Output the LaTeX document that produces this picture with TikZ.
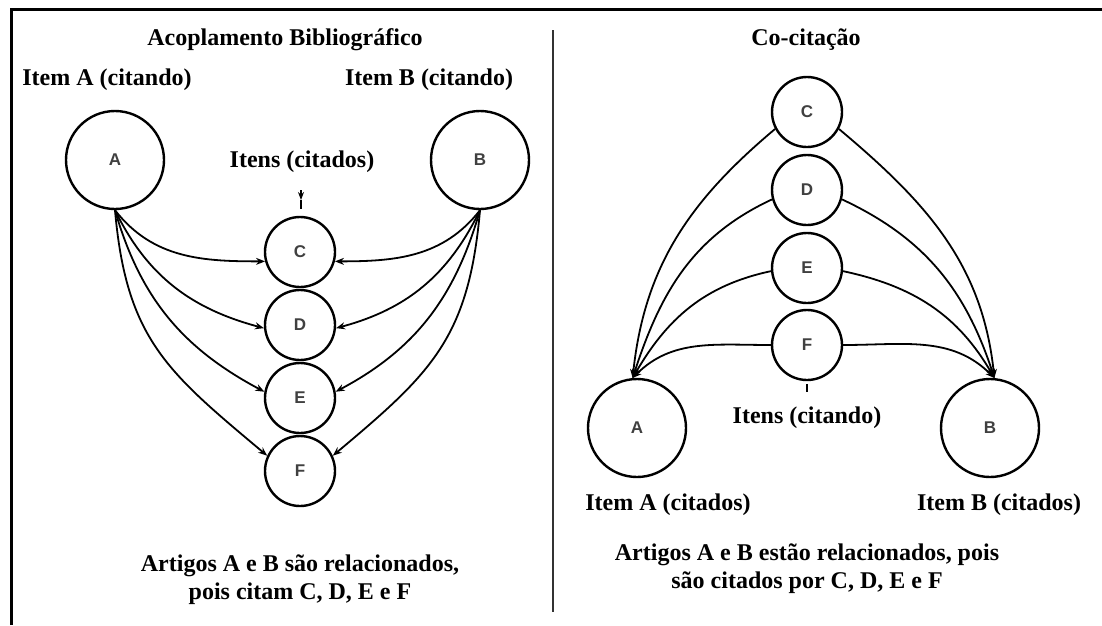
\documentclass[tikz,border=0pt]{standalone}
\usepackage{fontspec}
\setmainfont{Liberation Serif}
\newfontfamily\lblfont{Liberation Sans}
\usetikzlibrary{arrows.meta}
\begin{document}
\begin{tikzpicture}[x=1pt,y=1pt,
  big/.style={circle,draw,line width=2.4pt,minimum size=98pt,inner sep=0pt,
    font=\lblfont\bfseries\fontsize{17}{17}\selectfont,text=black!75},
  small/.style={circle,draw,line width=2.4pt,minimum size=70pt,inner sep=0pt,
    font=\lblfont\bfseries\fontsize{17}{17}\selectfont,text=black!75},
  lbl/.style={font=\bfseries\fontsize{24}{28}\selectfont,inner sep=0pt,align=center},
  arr/.style={line width=1.8pt,-{Stealth[length=9pt,width=7pt]}},
  rule/.style={line width=3pt}]
\useasboundingbox (0,0) rectangle (1102,-625);
% frame and divider
\coordinate (f1) at (11,-625);
\coordinate (f2) at (11,-9);
\coordinate (f3) at (1102,-9);
\draw[rule] (f1) -- (f2) -- (f3);
\coordinate (d1) at (553,-30);
\coordinate (d2) at (553,-612);
\draw[line width=2.5pt,black!80] (d1) -- (d2);
% ---------------- left panel ----------------
\node[lbl] (t1) at (285,-40) {Acoplamento Bibliográfico};
\node[lbl] (iA) at (107,-80) {Item A (citando)};
\node[lbl] (iB) at (429,-80) {Item B (citando)};
\node[big] (A) at (115,-160) {A};
\node[big] (B) at (480,-160) {B};
\node[lbl] (cit) at (302,-162) {Itens (citados)};
\node[small] (C) at (300,-252) {C};
\node[small] (D) at (300,-325) {D};
\node[small] (E) at (300,-398) {E};
\node[small] (F) at (300,-471) {F};
\coordinate (m1) at (301,-190);
\coordinate (m2) at (301,-200);
\coordinate (m3) at (301,-209);
\draw[line width=1.8pt,-{Stealth[length=8pt,width=6pt]}] (m1) -- (m2);
\draw[line width=1.8pt] (m2) -- (m3);
\draw[arr] (A.south) to[out=-52,in=180] (C.195);
\draw[arr] (A.south) to[out=-64,in=165] (D.185);
\draw[arr] (A.south) to[out=-74,in=152] (E.170);
\draw[arr] (A.south) to[out=-85,in=140,looseness=1.15] (F.155);
\draw[arr] (B.south) to[out=-128,in=0] (C.-15);
\draw[arr] (B.south) to[out=-116,in=15] (D.-5);
\draw[arr] (B.south) to[out=-106,in=28] (E.10);
\draw[arr] (B.south) to[out=-95,in=40,looseness=1.15] (F.25);
\node[lbl] (s1) at (300,-580) {Artigos A e B são relacionados,\\pois citam C, D, E e F};
% ---------------- right panel ----------------
\node[lbl] (t2) at (806,-40) {Co-citação};
\node[small] (C2) at (807,-112) {C};
\node[small] (D2) at (807,-190) {D};
\node[small] (E2) at (807,-268) {E};
\node[small] (F2) at (807,-345) {F};
\node[big] (A2) at (637,-428) {A};
\node[big] (B2) at (990,-428) {B};
\node[lbl] (cit2) at (807,-418) {Itens (citando)};
\coordinate (n1) at (807,-384);
\coordinate (n2) at (807,-392);
\draw[line width=2.8pt] (n1) -- (n2);
\draw[arr] (C2.208) to[out=220,in=84] (A2.95);
\draw[arr] (D2.195) to[out=205,in=72] (A2.95);
\draw[arr] (E2.185) to[out=192,in=60] (A2.95);
\draw[arr] (F2.180) to[out=180,in=45] (A2.95);
\draw[arr] (C2.-28) to[out=-40,in=96] (B2.85);
\draw[arr] (D2.-15) to[out=-25,in=108] (B2.85);
\draw[arr] (E2.-5) to[out=-12,in=120] (B2.85);
\draw[arr] (F2.0) to[out=0,in=135] (B2.85);
\node[lbl] (iA2) at (668,-505) {Item A (citados)};
\node[lbl] (iB2) at (999,-505) {Item B (citados)};
\node[lbl] (s2) at (807,-569) {Artigos A e B estão relacionados, pois\\são citados por C, D, E e F};
\end{tikzpicture}
\end{document}
